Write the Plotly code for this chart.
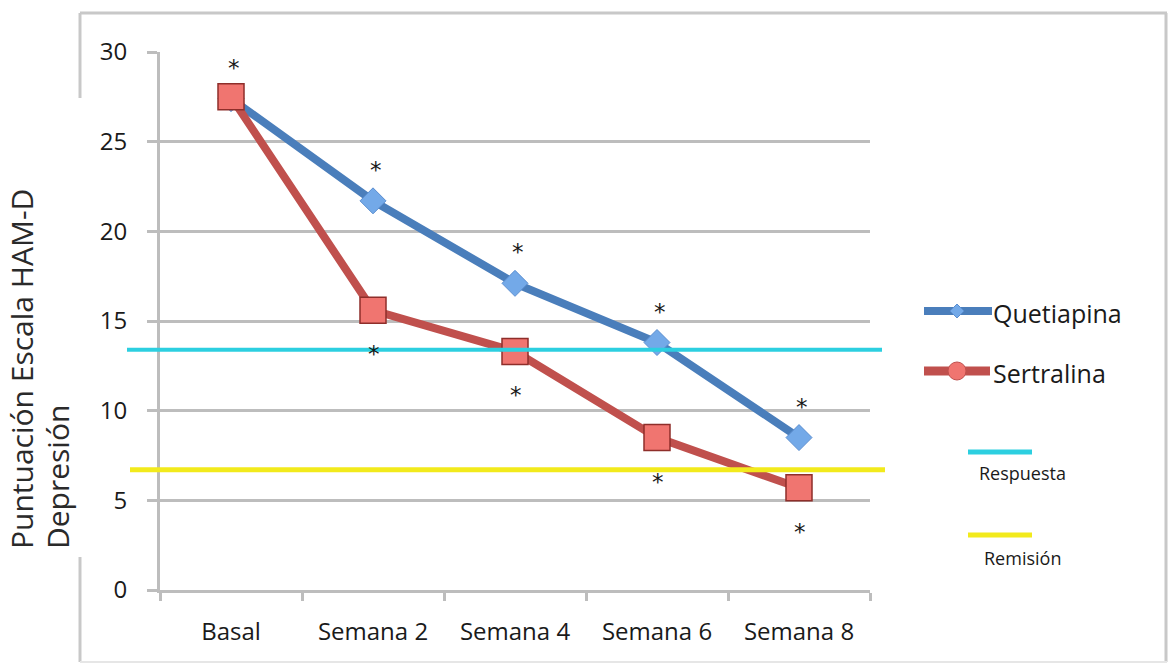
import plotly.graph_objects as go

# Weekly HAM-D depression scores
semanas = ["Basal", "Semana 2", "Semana 4", "Semana 6", "Semana 8"]
quetiapina = [27.4, 21.7, 17.1, 13.8, 8.5]
sertralina = [27.5, 15.6, 13.3, 8.5, 5.7]

# Significance marks (True = "*")
sig_quetiapina = [True, True, True, True, True]
sig_sertralina = [False, True, True, True, True]

# Reference thresholds
respuesta = 13.4
remision = 6.7

y_ticks = [0, 5, 10, 15, 20, 25, 30]

# Figure geometry (pixels)
W, H = 1169, 664
PL, PR, PT, PB = 160, 870, 52, 590

def px(x):
    return (x - PL) / (PR - PL)

def py(y):
    return (PB - y) / (PB - PT)

BLUE = "#4A7EBB"
BLUE_MK = "#73A9E8"
RED = "#C0504D"
RED_MK = "#F07570"
CYAN = "#2CCFE0"
YELLOW = "#F2EA1C"
GRID = "#BDBDBD"

fig = go.Figure()

fig.add_trace(go.Scatter(
    x=semanas, y=quetiapina, mode="lines+markers", name="Quetiapina",
    line=dict(color=BLUE, width=8),
    marker=dict(symbol="diamond", size=20, color=BLUE_MK,
                line=dict(color="#5B8ED0", width=1)),
    showlegend=False,
))
fig.add_trace(go.Scatter(
    x=semanas, y=sertralina, mode="lines+markers", name="Sertralina",
    line=dict(color=RED, width=8),
    marker=dict(symbol="square", size=26, color=RED_MK,
                line=dict(color="#8E2E2A", width=1.5)),
    showlegend=False,
))

shapes = []
# threshold lines
shapes.append(dict(type="line", xref="paper", yref="y", x0=px(127), x1=px(882),
                   y0=respuesta, y1=respuesta, line=dict(color=CYAN, width=4), layer="above"))
shapes.append(dict(type="line", xref="paper", yref="y", x0=px(130), x1=px(885),
                   y0=remision, y1=remision, line=dict(color=YELLOW, width=5), layer="above"))

# outer frame
FR = "#C8C8C8"
shapes.append(dict(type="line", xref="paper", yref="paper", x0=px(80), x1=px(1167),
                   y0=py(13), y1=py(13), line=dict(color=FR, width=3)))
shapes.append(dict(type="line", xref="paper", yref="paper", x0=px(1166), x1=px(1166),
                   y0=py(13), y1=py(662), line=dict(color=FR, width=3)))
shapes.append(dict(type="line", xref="paper", yref="paper", x0=px(80), x1=px(80),
                   y0=py(13), y1=py(98), line=dict(color=FR, width=3)))
shapes.append(dict(type="line", xref="paper", yref="paper", x0=px(80), x1=px(80),
                   y0=py(557), y1=py(662), line=dict(color=FR, width=3)))
shapes.append(dict(type="line", xref="paper", yref="paper", x0=px(80), x1=px(1167),
                   y0=py(662), y1=py(662), line=dict(color="#E6E6E6", width=2)))

# legend samples
shapes.append(dict(type="line", xref="paper", yref="paper", x0=px(924), x1=px(992),
                   y0=py(311), y1=py(311), line=dict(color=BLUE, width=8)))
shapes.append(dict(type="path", xref="paper", yref="paper",
                   path="M {} {} L {} {} L {} {} L {} {} Z".format(
                       px(957), py(304), px(964), py(311), px(957), py(318), px(950), py(311)),
                   fillcolor=BLUE_MK, line=dict(color="#5B8ED0", width=1)))
shapes.append(dict(type="line", xref="paper", yref="paper", x0=px(924), x1=px(990),
                   y0=py(371), y1=py(371), line=dict(color=RED, width=9)))
shapes.append(dict(type="circle", xref="paper", yref="paper", x0=px(948), x1=px(966),
                   y0=py(362), y1=py(380), fillcolor=RED_MK, line=dict(color="#C0504D", width=1)))
shapes.append(dict(type="line", xref="paper", yref="paper", x0=px(968), x1=px(1032),
                   y0=py(452), y1=py(452), line=dict(color=CYAN, width=5)))
shapes.append(dict(type="line", xref="paper", yref="paper", x0=px(968), x1=px(1032),
                   y0=py(535), y1=py(535), line=dict(color=YELLOW, width=5)))

annotations = []
TXT = "#1A1A1A"
STAR_FONT = dict(family="DejaVu Sans", size=23, color=TXT)
for i, s in enumerate(semanas):
    if sig_quetiapina[i]:
        annotations.append(dict(x=s, y=quetiapina[i], xref="x", yref="y", text="*",
                                showarrow=False, yshift=31, xshift=3, font=STAR_FONT))
    if sig_sertralina[i]:
        annotations.append(dict(x=s, y=sertralina[i], xref="x", yref="y", text="*",
                                showarrow=False, yshift=-44, xshift=1, font=STAR_FONT))

# legend labels
LEG_FONT = "Open Sans, sans-serif"
annotations.append(dict(x=px(991), y=py(313), xref="paper", yref="paper", text="Quetiapina",
                        showarrow=False, xanchor="left", yanchor="middle",
                        font=dict(family=LEG_FONT, size=25, color=TXT)))
annotations.append(dict(x=px(991), y=py(373), xref="paper", yref="paper", text="Sertralina",
                        showarrow=False, xanchor="left", yanchor="middle",
                        font=dict(family=LEG_FONT, size=25, color=TXT)))
annotations.append(dict(x=px(1022), y=py(473), xref="paper", yref="paper", text="Respuesta",
                        showarrow=False, xanchor="center", yanchor="middle",
                        font=dict(family="Open Sans, sans-serif", size=18, color=TXT)))
annotations.append(dict(x=px(1022), y=py(558), xref="paper", yref="paper", text="Remisión",
                        showarrow=False, xanchor="center", yanchor="middle",
                        font=dict(family="Open Sans, sans-serif", size=18, color=TXT)))

# y-axis title, two lines starting at the same baseline point
TITLE_FONT = "Open Sans, sans-serif"
annotations.append(dict(x=px(21), y=py(551), xref="paper", yref="paper",
                        text="Puntuación Escala HAM-D", showarrow=False, textangle=-90,
                        xanchor="center", yanchor="bottom",
                        font=dict(family=TITLE_FONT, size=30, color="#2A2A2A")))
annotations.append(dict(x=px(57), y=py(551), xref="paper", yref="paper",
                        text="Depresión", showarrow=False, textangle=-90,
                        xanchor="center", yanchor="bottom",
                        font=dict(family=TITLE_FONT, size=30, color="#2A2A2A")))

TICK_FONT = dict(family="Open Sans, sans-serif", size=24, color=TXT)

fig.update_layout(
    width=W, height=H,
    margin=dict(l=PL, r=W - PR, t=PT, b=H - PB, pad=0),
    paper_bgcolor="white", plot_bgcolor="white",
    shapes=shapes, annotations=annotations,
    xaxis=dict(
        type="category", range=[-0.5, 4.5], showgrid=False,
        showline=True, linecolor=GRID, linewidth=3,
        ticks="outside", tickson="boundaries", ticklen=8, tickwidth=3, tickcolor=GRID,
        tickfont=TICK_FONT, ticklabelstandoff=18, zeroline=False,
    ),
    yaxis=dict(
        range=[0, 30], tickvals=y_ticks, showgrid=True, gridcolor=GRID, gridwidth=3,
        showline=True, linecolor=GRID, linewidth=3,
        ticks="outside", ticklen=10, tickwidth=3, tickcolor=GRID,
        tickfont=TICK_FONT, ticklabelstandoff=15, zeroline=False,
    ),
)

fig.write_html("out.html")
